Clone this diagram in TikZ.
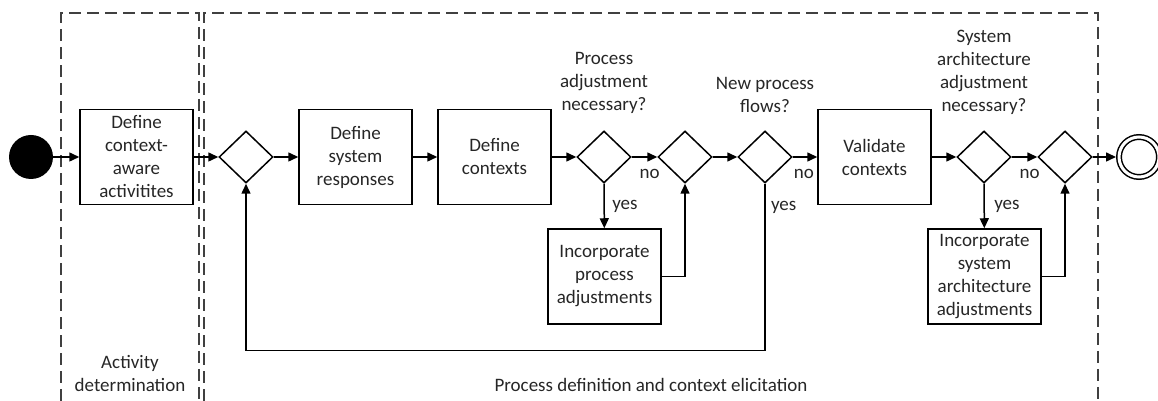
\documentclass[tikz,border=0pt]{standalone}
\usepackage{fontspec}
\setmainfont{Carlito}
\usetikzlibrary{shapes.geometric,arrows.meta}

\begin{document}
\begin{tikzpicture}[x=1pt,y=1pt,
  font=\fontsize{19}{23}\selectfont,
  activity/.style={draw, line width=1.5pt, minimum width=113pt, minimum height=95pt, align=center, inner sep=1pt, text=black!85},
  gateway/.style={draw, diamond, line width=1.5pt, minimum width=54pt, minimum height=52pt, inner sep=0pt},
  flow/.style={line width=1.5pt, -{Triangle[length=10pt,width=9pt]}},
  lane/.style={draw=black!75, line width=1.7pt, dash pattern=on 12pt off 6pt},
  lbl/.style={text=black!85, align=center}]

\useasboundingbox (0,0) rectangle (1158,401);

% Lanes
\draw[lane] (61,0) -- (61,388) -- (199,388) -- (199,0);
\draw[lane] (204,0) -- (204,388) -- (1098,388) -- (1098,0);
\node[lbl] (laneact) at (130,27) {Activity\\determination};
\node[lbl] (laneproc) at (651,16) {Process definition and context elicitation};

% Start and end events
\node[circle, fill=black, minimum size=44pt, inner sep=0pt] (start) at (31,244) {};
\node[circle, draw, double, double distance=3pt, line width=1.5pt, minimum size=40pt, inner sep=0pt, outer sep=3pt] (end) at (1139,244) {};

% Activities
\node[activity] (defact) at (136.5,244) {Define\\context-\\aware\\activitites};
\node[activity] (defresp) at (355.5,244) {Define\\system\\responses};
\node[activity] (defctx) at (494.5,244) {Define\\contexts};
\node[activity] (incproc) at (604.5,124.5) {Incorporate\\process\\adjustments};
\node[activity] (valctx) at (874.5,244) {Validate\\contexts};
\node[activity] (incarch) at (984.5,124.5) {Incorporate\\system\\architecture\\adjustments};

% Gateways
\node[gateway] (gw1) at (246,244) {};
\node[gateway] (gw2) at (604,244) {};
\node[gateway] (gw3) at (685,244) {};
\node[gateway] (gw4) at (765,244) {};
\node[gateway] (gw5) at (984,244) {};
\node[gateway] (gw6) at (1065,244) {};

% Questions
\node[lbl] (qproc) at (604,318) {Process\\adjustment\\necessary?};
\node[lbl] (qflow) at (765,306) {New process\\flows?};
\node[lbl] (qarch) at (984,329) {System\\architecture\\adjustment\\necessary?};

% Flows
\draw[flow] (start) -- (defact);
\draw[flow] (defact) -- (gw1);
\draw[flow] (gw1) -- (defresp);
\draw[flow] (defresp) -- (defctx);
\draw[flow] (defctx) -- (gw2);
\draw[flow] (gw2) -- node[lbl, below=8pt, pos=0.7] {no} (gw3);
\draw[flow] (gw2) -- node[lbl, right=4pt] {yes} (incproc);
\draw[flow] (incproc.east) -| (gw3.south);
\draw[flow] (gw3) -- (gw4);
\draw[flow] (gw4) -- node[lbl, below=8pt, pos=0.45] {no} (valctx);
\draw[flow] (gw4.south) -- node[lbl, right=2pt, pos=0.14] {yes} ++(0,-167) -| (gw1.south);
\draw[flow] (valctx) -- (gw5);
\draw[flow] (gw5) -- node[lbl, below=8pt, pos=0.7] {no} (gw6);
\draw[flow] (gw5) -- node[lbl, right=6pt] {yes} (incarch);
\draw[flow] (incarch.east) -| (gw6.south);
\draw[flow] (gw6) -- (end);
\end{tikzpicture}
\end{document}
